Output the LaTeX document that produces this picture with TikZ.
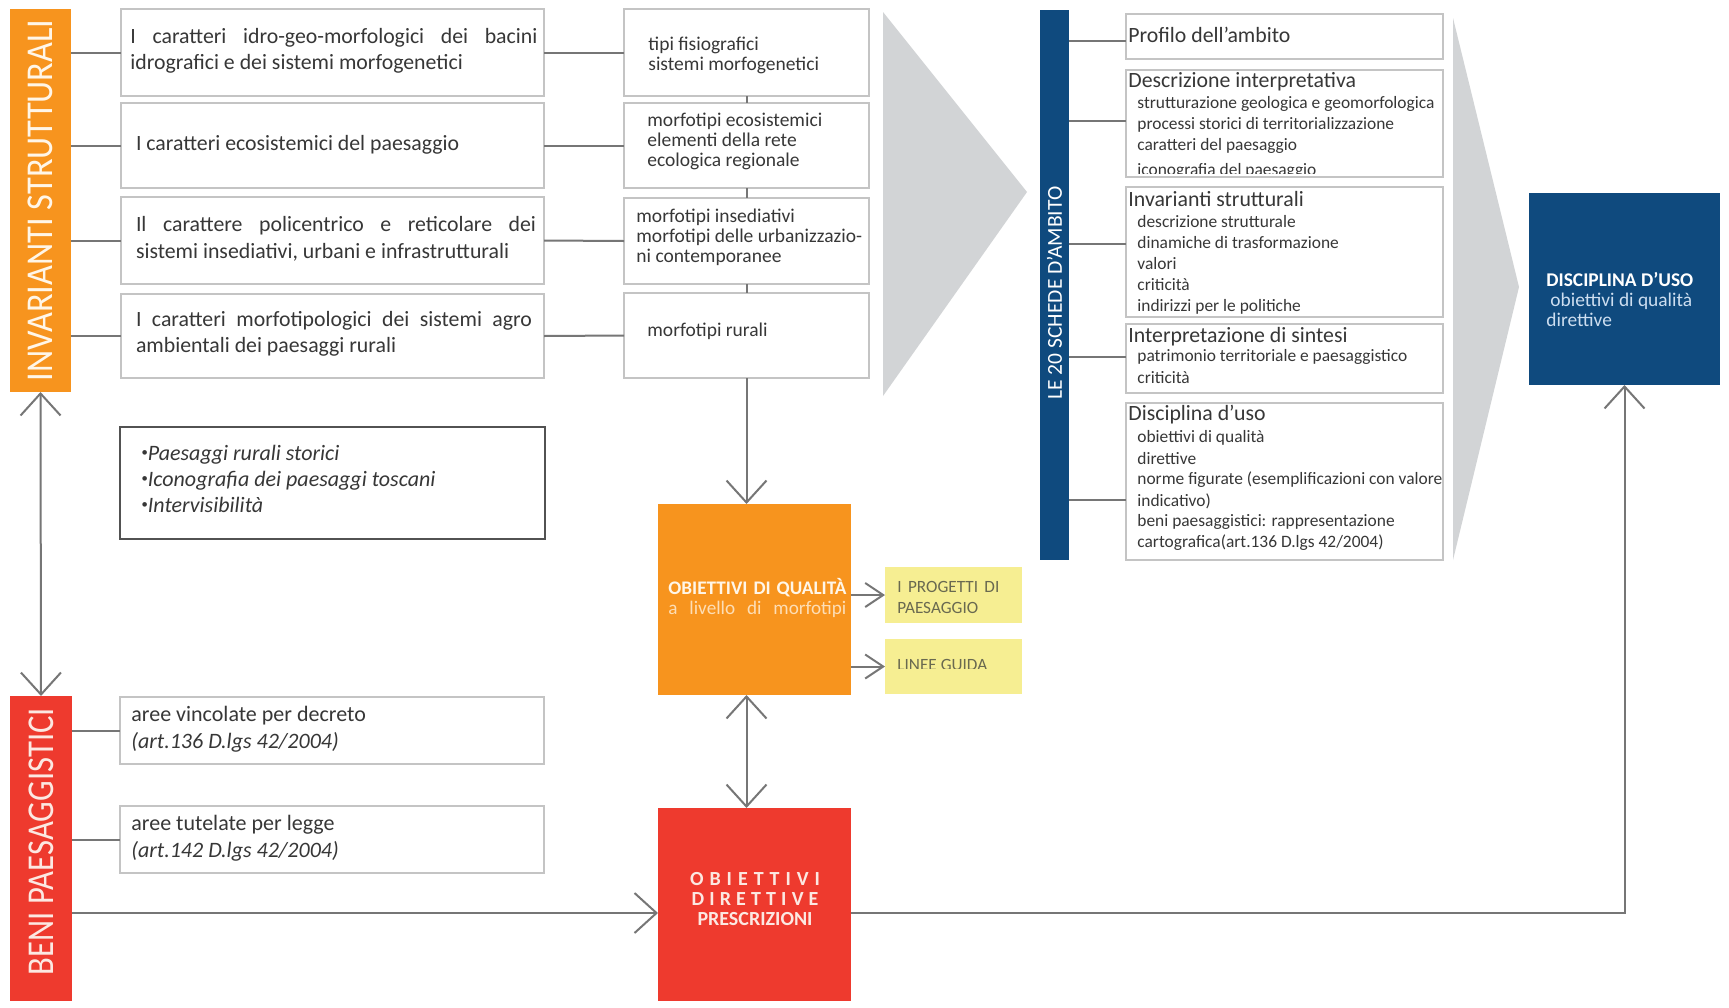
\documentclass[tikz,border=0pt]{standalone}
\usepackage{fontspec}
\setmainfont{Carlito}
\usepackage{graphicx}
\usetikzlibrary{arrows.meta,fit,calc}
\definecolor{orangeC}{RGB}{247,148,30}
\definecolor{redC}{RGB}{238,58,46}
\definecolor{blueC}{RGB}{15,74,126}
\definecolor{yellowC}{RGB}{246,238,146}
\definecolor{chevC}{RGB}{210,212,214}
\definecolor{lineC}{RGB}{118,118,118}
\definecolor{borderC}{RGB}{196,196,196}
\definecolor{textC}{RGB}{55,55,55}
\definecolor{yelTextC}{RGB}{105,105,80}
\definecolor{oqT}{RGB}{255,246,232}
\definecolor{oqS}{RGB}{253,222,182}
\definecolor{duT}{RGB}{205,222,240}
\definecolor{rdT}{RGB}{252,232,226}
\newcommand{\mybul}{{\fontsize{6.5}{6.5}\selectfont\raisebox{1.8pt}{•}}}
\begin{document}
\begin{tikzpicture}[x=0.5pt,y=-0.5pt,
  gbox/.style={draw=borderC, line width=1pt, fill=white, inner sep=0pt, outer sep=0pt},
  ibox/.style={draw=black!68, line width=1.3pt, fill=white, inner sep=0pt, outer sep=0pt},
  bar/.style={draw=none, inner sep=0pt, outer sep=0pt},
  conn/.style={draw=lineC, line width=1pt},
  arr/.style={conn, -{Straight Barb[length=11pt,width=20pt]}},
  darr/.style={conn, {Straight Barb[length=11pt,width=20pt]}-{Straight Barb[length=11pt,width=20pt]}},
  sarr/.style={conn, -{Straight Barb[length=9pt,width=12pt]}},
  txt/.style={inner sep=0pt, anchor=west, align=left, text=textC},
  ltxt/.style={txt, font=\fontsize{10.9}{13.2}\selectfont},
  mtxt/.style={txt, font=\fontsize{9.75}{10}\selectfont},
  rtit/.style={txt, font=\fontsize{10.9}{12}\selectfont},
  ritem/.style={txt, font=\fontsize{8.7}{10}\selectfont},
  vtxt/.style={inner sep=0pt, rotate=90}
]
\useasboundingbox (0,0) rectangle (1729,1007);
\fill[white] (0,0) rectangle (1729,1007);

% chevrons
\fill[chevC] (883,12) -- (1027,192) -- (883,396) -- cycle;
\fill[chevC] (1453,18) -- (1519,287) -- (1453,560) -- cycle;

% coloured blocks
\node[bar, fill=orangeC, fit={(10,9) (71,392)}] (inv) {};
\node[bar, fill=redC, fit={(10,696) (72,1001)}] (bp) {};
\node[bar, fill=blueC, fit={(1040,10) (1069,560)}] (sb) {};
\node[bar, fill=orangeC, fit={(658,504) (851,695)}] (oq) {};
\node[bar, fill=redC, fit={(658,808) (851,1001)}] (rd) {};
\node[bar, fill=blueC, fit={(1529,193) (1720,385)}] (du) {};
\node[bar, fill=yellowC, fit={(885,567) (1022,623)}] (y1) {};
\node[bar, fill=yellowC, fit={(885,639) (1022,694)}] (y2) {};

% white boxes
\node[gbox, fit={(121,9) (544,96)}] (L1) {};
\node[gbox, fit={(121,103) (544,188)}] (L2) {};
\node[gbox, fit={(121,197) (544,284)}] (L3) {};
\node[gbox, fit={(121,294) (544,378)}] (L4) {};
\node[gbox, fit={(624,9) (869,96)}] (M1) {};
\node[gbox, fit={(624,103) (869,188)}] (M2) {};
\node[gbox, fit={(624,198) (869,284)}] (M3) {};
\node[gbox, fit={(624,293) (869,378)}] (M4) {};
\node[gbox, fit={(1126,14) (1443,59)}] (R1) {};
\node[gbox, fit={(1126,70) (1443,177)}] (R2) {};
\node[gbox, fit={(1126,187) (1443,317)}] (R3) {};
\node[gbox, fit={(1126,324) (1443,393)}] (R4) {};
\node[gbox, fit={(1126,403) (1443,560)}] (R5) {};
\node[gbox, fit={(120,697) (544,764)}] (B1) {};
\node[gbox, fit={(120,806) (544,873)}] (B2) {};
\node[ibox, fit={(120,427) (545,539)}] (IT) {};

% connectors
\foreach \i in {1,...,4} {
  \draw[conn] (L\i.west -| inv.east) -- (L\i.west);
  \draw[conn] (L\i.east) -- (M\i.west);
}
\draw[conn] (M1.south) -- (M2.north);
\draw[conn] (M2.south) -- (M3.north);
\draw[conn] (M3.south) -- (M4.north);
\draw[arr] (M4.south) -- (M4.south |- oq.north);
\draw[darr] (M4.south |- oq.south) -- (M4.south |- rd.north);
\draw[sarr] (oq.east |- y1.west) -- (y1.west);
\draw[sarr] (oq.east |- y2.west) -- (y2.west);
\draw[darr] (inv.south) -- (bp.north);
\draw[conn] (B1.west -| bp.east) -- (B1.west);
\draw[conn] (B2.west -| bp.east) -- (B2.west);
\coordinate (ly) at (400,913);
\draw[arr] (bp.east |- ly) -- (rd.west |- ly);
\draw[arr] (rd.east |- ly) -| (du.south);
\foreach \i/\yy in {1/41,2/121,3/244,4/357,5/500} {
  \coordinate (k\i) at (1100,\yy);
  \draw[conn] (sb.east |- k\i) -- (R\i.west |- k\i);
}

% vertical texts
\node[vtxt, text=oqT] (invt) at (inv.center) {\resizebox{181pt}{12.3pt}{INVARIANTI STRUTTURALI}};
\node[vtxt, text=rdT] (bpt) at ($(bp.center)+(0,-7)$) {\resizebox{133.5pt}{12.3pt}{BENI PAESAGGISTICI}};
\node[vtxt, text=white] (sbt) at ($(sb.center)+(0,8)$) {\resizebox{106.5pt}{7.5pt}{LE 20 SCHEDE D’AMBITO}};

% left texts
\node[ltxt] (L1t) at (130,51) {\makebox[203.5pt][s]{I caratteri idro-geo-morfologici dei bacini}\\idrografici e dei sistemi morfogenetici};
\node[ltxt] (L2t) at (135.6,145) {I caratteri ecosistemici del paesaggio};
\node[ltxt] (L3t) at (135.6,239) {\makebox[200pt][s]{Il carattere policentrico e reticolare dei}\\sistemi insediativi, urbani e infrastrutturali};
\node[ltxt] (L4t) at (135.6,334) {\makebox[198pt][s]{I caratteri morfotipologici dei sistemi agro}\\ambientali dei paesaggi rurali};

% middle texts
\node[mtxt] (M1t) at (648,55) {tipi fisiografici\\sistemi morfogenetici};
\node[mtxt] (M2t) at (647,141) {morfotipi ecosistemici\\elementi della rete\\ecologica regionale};
\node[mtxt] (M3t) at (636,237) {morfotipi insediativi\\morfotipi delle urbanizzazio-\\ni contemporanee};
\node[mtxt] (M4t) at (647,331) {morfotipi rurali};

% italic box text
\node[txt, font=\fontsize{11}{13}\selectfont\itshape] (ITt) at (141,479) {\mybul Paesaggi rurali storici\\\mybul Iconografia dei paesaggi toscani\\\mybul Intervisibilità};

% beni boxes
\node[txt, font=\fontsize{11}{13.5}\selectfont] (B1t) at (131,729.5) {aree vincolate per decreto\\\textit{(art.136 D.lgs 42/2004)}};
\node[txt, font=\fontsize{11}{13.5}\selectfont] (B2t) at (131,838) {aree tutelate per legge\\\textit{(art.142 D.lgs 42/2004)}};

% orange box
\node[txt, text=oqT, font=\fontsize{9.6}{10}\selectfont] (oqt) at (668,598) {\makebox[89pt][s]{\bfseries OBIETTIVI DI QUALITÀ}\\\makebox[89pt][s]{\color{oqS}a livello di morfotipi}};
% red box
\node[inner sep=0pt, align=center, text=rdT, font=\fontsize{10}{10}\selectfont\bfseries] (rdt) at (755,899) {\makebox[65pt][s]{O B I E T T I V I}\\\makebox[63.5pt][s]{D I R E T T I V E}\\PRESCRIZIONI};
% yellow boxes
\node[txt, text=yelTextC, font=\fontsize{8.6}{10.5}\selectfont] (y1t) at (897,597) {\makebox[51pt][s]{I PROGETTI DI}\\PAESAGGIO};
\begin{scope}
\clip (y2.north west) rectangle (1022,668.5);
\node[txt, text=yelTextC, font=\fontsize{8.6}{10.5}\selectfont] (y2t) at (897,665) {LINEE GUIDA};
\end{scope}
% disciplina box
\node[txt, text=duT, font=\fontsize{9.7}{10}\selectfont] (dut) at (1546,300) {\textbf{\color{white}DISCIPLINA D’USO}\\\hspace{2pt}obiettivi di qualità\\direttive};

% right column
\node[rtit] (r1a) at (1128,35) {Profilo dell’ambito};
\node[rtit] (r2a) at (1128,82) {Descrizione interpretativa};
\node[ritem] (r2b) at (1137,104) {strutturazione geologica e geomorfologica};
\node[ritem] (r2c) at (1137,125) {processi storici di territorializzazione};
\node[ritem] (r2d) at (1137,146) {caratteri del paesaggio};
\begin{scope}
\clip (R2.north west) rectangle (1443,173);
\node[ritem] (r2e) at (1137,171) {iconografia del paesaggio};
\end{scope}
\node[rtit] (r3a) at (1128,199) {Invarianti strutturali};
\node[ritem] (r3b) at (1137,222) {descrizione strutturale};
\node[ritem] (r3c) at (1137,243) {dinamiche di trasformazione};
\node[ritem] (r3d) at (1137,264) {valori};
\node[ritem] (r3e) at (1137,285) {criticità};
\node[ritem] (r3f) at (1137,307) {indirizzi per le politiche};
\node[rtit] (r4a) at (1128,337) {Interpretazione di sintesi};
\node[ritem] (r4b) at (1137,357) {patrimonio territoriale e paesaggistico};
\node[ritem] (r4c) at (1137,378) {criticità};
\node[rtit] (r5a) at (1128,415) {Disciplina d’uso};
\node[ritem] (r5b) at (1137,438) {obiettivi di qualità};
\node[ritem] (r5c) at (1137,459) {direttive};
\node[ritem] (r5d) at (1137,480) {norme figurate (esemplificazioni con valore};
\node[ritem] (r5e) at (1137,501) {indicativo)};
\node[ritem] (r5f) at (1137,522) {beni paesaggistici: rappresentazione};
\node[ritem] (r5g) at (1137,543) {cartografica(art.136 D.lgs 42/2004)};
\end{tikzpicture}
\end{document}
